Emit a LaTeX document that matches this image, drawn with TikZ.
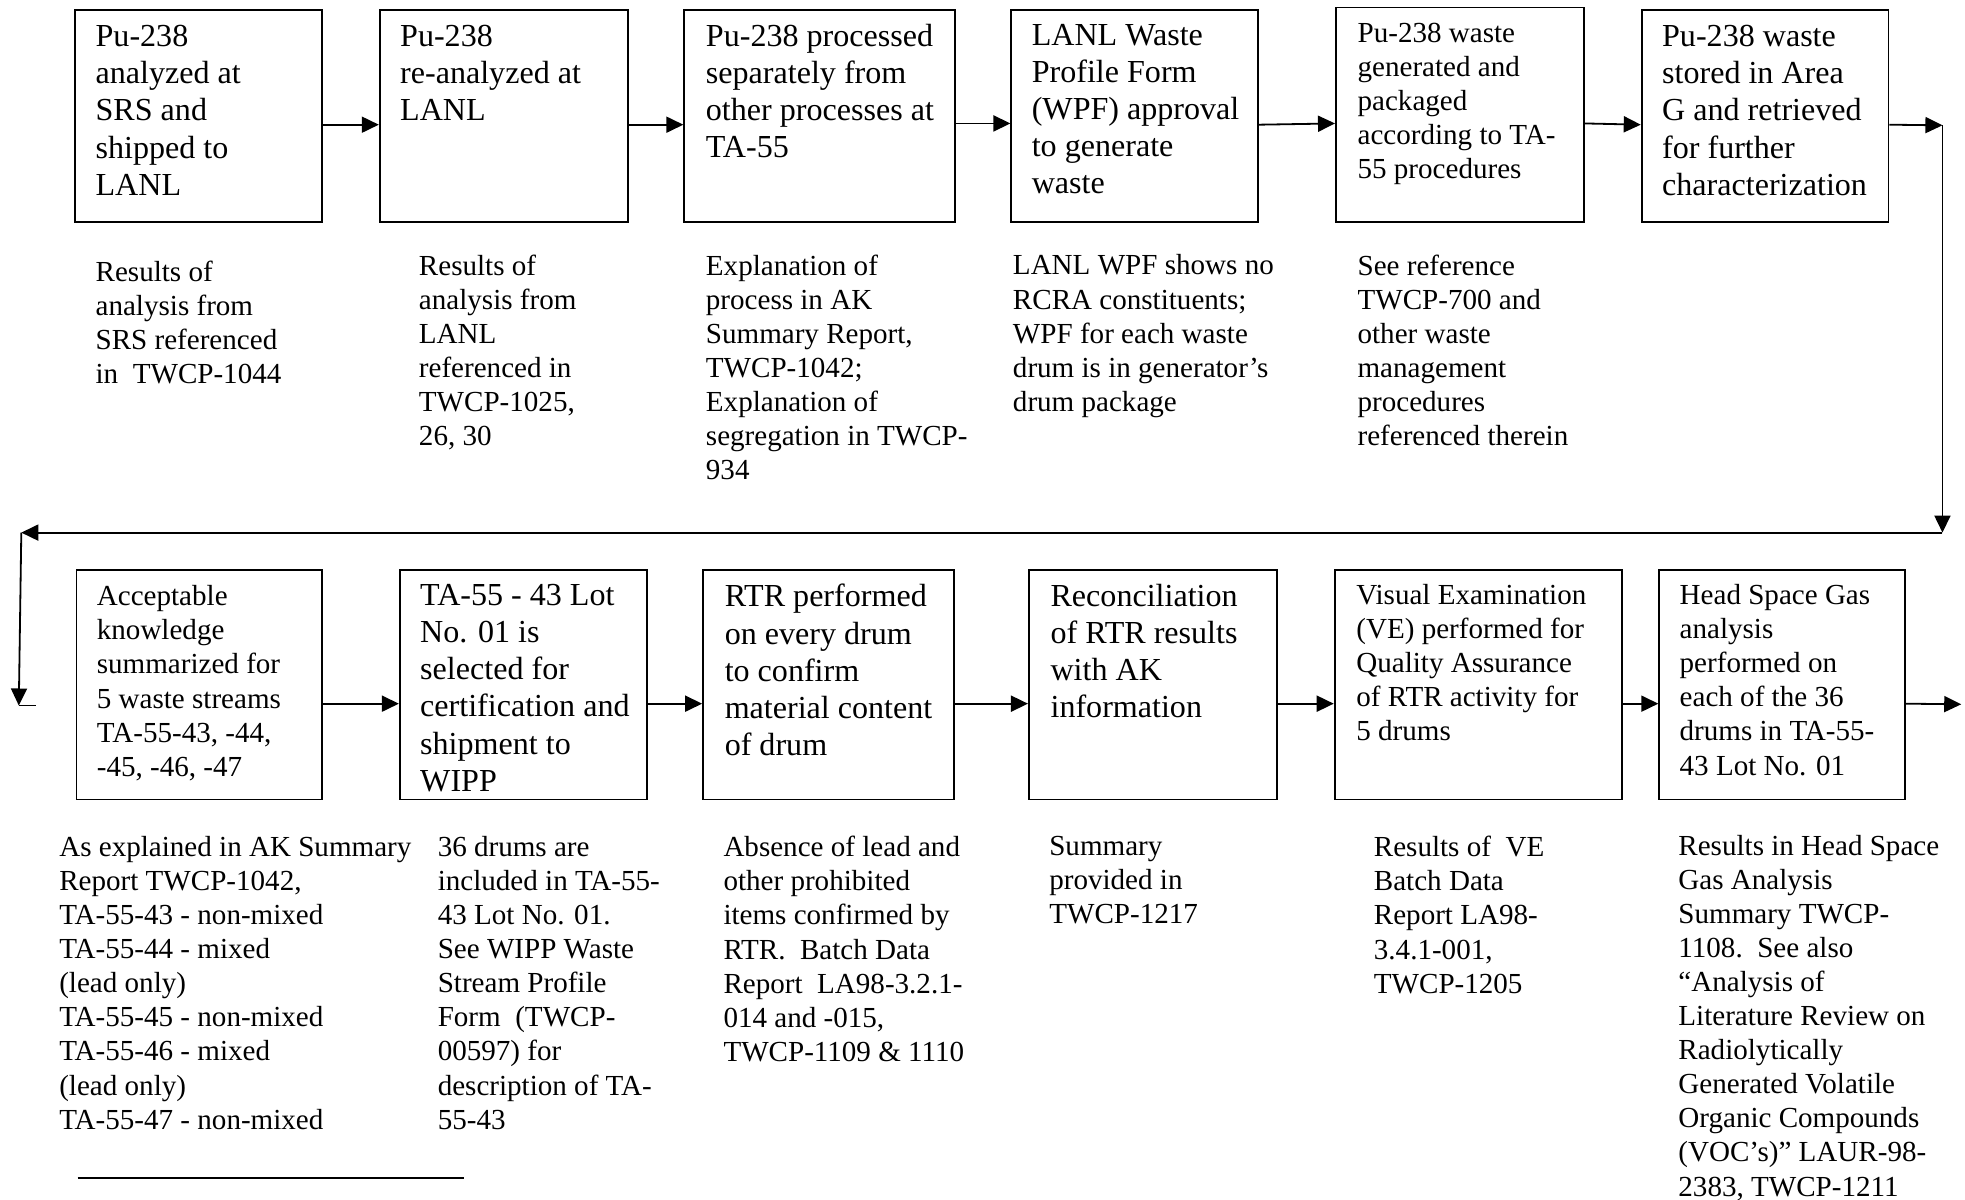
\documentclass[tikz,border=0pt]{standalone}
\usepackage{fontspec}
\setmainfont{Liberation Serif}
\usetikzlibrary{arrows.meta,fit}

\begin{document}
\begin{tikzpicture}[
    x=0.625pt, y=-0.625pt,
    box/.style={
        rectangle, draw, line width=0.9pt, inner sep=0pt
    },
    bigtext/.style={
        anchor=north west, inner sep=0pt, align=left,
        font=\fontsize{16}{18.5}\selectfont
    },
    smalltext/.style={
        anchor=north west, inner sep=0pt, align=left,
        font=\fontsize{14.5}{17}\selectfont
    },
    arrow/.style={-{Triangle[length=8.5pt,width=8pt]}, line width=0.9pt}
]
\useasboundingbox (0,0) rectangle (1568,957);

% Row 1: boxes
\node[box, fit={(60,8) (257,177)}] (b1) {};
\node[box, fit={(303,8) (501,177)}] (b2) {};
\node[box, fit={(546,8) (762,177)}] (b3) {};
\node[box, fit={(807,8) (1004,177)}] (b4) {};
\node[box, fit={(1066,6) (1264,177)}] (b5) {};
\node[box, fit={(1310,8) (1507,177)}] (b6) {};

\node[bigtext] (b1text) at (76,20) {Pu-238\\analyzed at\\SRS and\\shipped to\\LANL};
\node[bigtext] (b2text) at (319,20) {Pu-238\\re-analyzed at\\LANL};
\node[bigtext] (b3text) at (563,19) {Pu-238 processed\\separately from\\other processes at\\TA-55};
\node[bigtext] (b4text) at (823,19) {LANL Waste\\Profile Form\\(WPF) approval\\to generate\\waste};
\node[smalltext] (b5text) at (1083,18) {Pu-238 waste\\generated and\\packaged\\according to TA-\\55 procedures};
\node[bigtext] (b6text) at (1326,20) {Pu-238 waste\\stored in Area\\G and retrieved\\for further\\characterization};

% Row 1: notes
\node[smalltext] (n1) at (76,208) {Results of\\analysis from\\SRS referenced\\in~~TWCP-1044};
\node[smalltext] (n2) at (334,203) {Results of\\analysis from\\LANL\\referenced in\\TWCP-1025,\\26, 30};
\node[smalltext] (n3) at (563,203) {Explanation of\\process in AK\\Summary Report,\\TWCP-1042;\\Explanation of\\segregation in TWCP-\\934};
\node[smalltext] (n4) at (808,203) {LANL WPF shows no\\RCRA constituents;\\WPF for each waste\\drum is in generator’s\\drum package};
\node[smalltext] (n5) at (1083,203) {See reference\\TWCP-700 and\\other waste\\management\\procedures\\referenced therein};

% Row 2: boxes
\node[box, fit={(61,455) (257,638)}] (c1) {};
\node[box, fit={(319,455) (516,638)}] (c2) {};
\node[box, fit={(561,455) (761,638)}] (c3) {};
\node[box, fit={(821,455) (1019,638)}] (c4) {};
\node[box, fit={(1065,455) (1294,638)}] (c5) {};
\node[box, fit={(1324,455) (1520,638)}] (c6) {};

\node[smalltext] (c1text) at (77,467) {Acceptable\\knowledge\\summarized for\\5 waste streams\\TA-55-43, -44,\\-45, -46, -47};
\node[bigtext] (c2text) at (335,466) {TA-55 - 43 Lot\\No. 01 is\\selected for\\certification and\\shipment to\\WIPP};
\node[bigtext] (c3text) at (578,466) {RTR performed\\on every drum\\to confirm\\material content\\of drum};
\node[bigtext] (c4text) at (838,466) {Reconciliation\\of RTR results\\with AK\\information};
\node[smalltext] (c5text) at (1082,466) {Visual Examination\\(VE) performed for\\Quality Assurance\\of RTR activity for\\5 drums};
\node[smalltext] (c6text) at (1340,466) {Head Space Gas\\analysis\\performed on\\each of the 36\\drums in TA-55-\\43 Lot No. 01};

% Row 2: notes
\node[smalltext] (m1) at (47,667) {As explained in AK Summary\\Report TWCP-1042,\\TA-55-43 - non-mixed\\TA-55-44 - mixed\\(lead only)\\TA-55-45 - non-mixed\\TA-55-46 - mixed\\(lead only)\\TA-55-47 - non-mixed};
\node[smalltext] (m2) at (349,667) {36 drums are\\included in TA-55-\\43 Lot No. 01.\\See WIPP Waste\\Stream Profile\\Form~~(TWCP-\\00597) for\\description of TA-\\55-43};
\node[smalltext] (m3) at (577,667) {Absence of lead and\\other prohibited\\items confirmed by\\RTR.~~Batch Data\\Report~~LA98-3.2.1-\\014 and -015,\\TWCP-1109 \& 1110};
\node[smalltext] (m4) at (837,667) {Summary\\provided in\\TWCP-1217};
\node[smalltext] (m5) at (1096,667) {Results of~~VE\\Batch Data\\Report LA98-\\3.4.1-001,\\TWCP-1205};
\node[smalltext] (m6) at (1339,666) {Results in Head Space\\Gas Analysis\\Summary TWCP-\\1108.~~See also\\“Analysis of\\Literature Review on\\Radiolytically\\Generated Volatile\\Organic Compounds\\(VOC’s)” LAUR-98-\\2383, TWCP-1211};

% Loop back
\coordinate (loopA) at (1550,100);
\coordinate (loopB) at (1550,425);
\coordinate (loopC) at (17,425);
\coordinate (loopD) at (15,563);
\coordinate (loopE) at (29,563);
\coordinate (exitC) at (1565,562);

% Arrows
\draw[arrow] ([shift={(0,7)}]b1.east) -- ([shift={(0,7)}]b2.west);
\draw[arrow] ([shift={(0,7)}]b2.east) -- ([shift={(0,7)}]b3.west);
\draw[arrow] ([shift={(0,6)}]b3.east) -- ([shift={(0,6)}]b4.west);
\draw[arrow] ([shift={(0,7)}]b4.east) -- ([shift={(0,7)}]b5.west);
\draw[arrow] ([shift={(0,7)}]b5.east) -- ([shift={(0,7)}]b6.west);
\draw[arrow] ([shift={(0,7)}]b6.east) -- (loopA);
\draw[arrow] (loopA) -- (loopB);
\draw[arrow] (loopB) -- (loopC);
\draw[arrow] (loopC) -- (loopD);
\draw[line width=0.9pt] (loopD) -- (loopE);
\draw[arrow] ([shift={(0,15)}]c1.east) -- ([shift={(0,15)}]c2.west);
\draw[arrow] ([shift={(0,15)}]c2.east) -- ([shift={(0,15)}]c3.west);
\draw[arrow] ([shift={(0,15)}]c3.east) -- ([shift={(0,15)}]c4.west);
\draw[arrow] ([shift={(0,15)}]c4.east) -- ([shift={(0,15)}]c5.west);
\draw[arrow] ([shift={(0,15)}]c5.east) -- ([shift={(0,15)}]c6.west);
\draw[arrow] ([shift={(0,15)}]c6.east) -- (exitC);

% Footnote rule
\coordinate (ruleL) at (62,940);
\coordinate (ruleR) at (370,940);
\draw[line width=0.7pt] (ruleL) -- (ruleR);

\end{tikzpicture}
\end{document}
